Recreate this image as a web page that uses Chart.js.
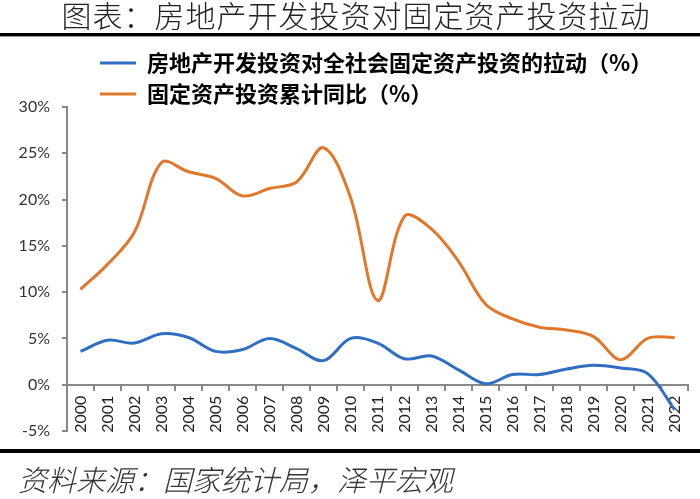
<!DOCTYPE html>
<html>
<head>
<meta charset="utf-8">
<script src="https://cdn.jsdelivr.net/npm/chart.js@4.4.1/dist/chart.umd.min.js"></script>
<style>
  html, body { margin: 0; padding: 0; background: #fff; }
  #wrap { position: relative; width: 700px; height: 499px; overflow: hidden; background: #fff; }
  #c { position: absolute; left: 0; top: 0; }
  #title { position: absolute; left: 6px; top: -3px; width: 700px; height: 34px; line-height: 34px; text-align: center;
           font-family: "Noto Sans CJK SC", sans-serif; font-weight: 300; font-size: 30px; letter-spacing: 1px; color: #222; white-space: nowrap; }
  #topline { position: absolute; left: 0; top: 33px; width: 700px; height: 3px; background: #000; }
  #topline2 { position: absolute; left: 0; top: 36px; width: 700px; height: 1px; background: #999; }
  #botline { position: absolute; left: 0; top: 449px; width: 700px; height: 4px; background: #000; }
  #source { position: absolute; left: 18px; top: 459px; height: 38px; line-height: 38px; white-space: nowrap;
            font-family: "Noto Sans CJK SC", sans-serif; font-weight: 300; font-style: italic; font-size: 29px; color: #333; }
</style>
</head>
<body>
<div id="wrap">
  <canvas id="c" width="700" height="499"></canvas>
  <div id="title">图表：房地产开发投资对固定资产投资拉动</div>
  <div id="topline"></div>
  <div id="topline2"></div>
  <div id="botline"></div>
  <div id="source">资料来源：国家统计局，泽平宏观</div>
</div>
<script>
// ---- data ----
const years = ["2000","2001","2002","2003","2004","2005","2006","2007","2008","2009","2010","2011",
               "2012","2013","2014","2015","2016","2017","2018","2019","2020","2021","2022"];
const seriesNames = ["房地产开发投资对全社会固定资产投资的拉动（%）", "固定资产投资累计同比（%）"];
const realEstatePull = [3.6, 4.8, 4.5, 5.5, 5.1, 3.6, 3.8, 5.0, 3.9, 2.6, 5.0, 4.5,
                        2.8, 3.1, 1.6, 0.1, 1.1, 1.1, 1.7, 2.1, 1.8, 1.2, -2.7];
const fixedInvestGrowth = [10.3, 13.0, 16.5, 24.0, 23.0, 22.3, 20.4, 21.2, 21.9, 25.6, 20.2, 9.1,
                           18.2, 16.8, 13.3, 8.7, 7.1, 6.2, 5.9, 5.2, 2.7, 5.0, 5.1];
const yMin = -5, yMax = 30, yStep = 5;

const BLUE = "#2F6EC0";
const ORANGE = "#E0782C";
const AXIS = "#888888";

const legendShift = {
  id: 'legendShift',
  afterLayout(chart) {
    const lg = chart.legend;
    if (lg) { lg.left = 91; lg.top = 43; }
  }
};

new Chart(document.getElementById('c'), {
  type: 'line',
  data: {
    labels: years,
    datasets: [
      { label: seriesNames[0], data: realEstatePull, borderColor: BLUE, backgroundColor: BLUE,
        borderWidth: 3, pointRadius: 0, tension: 0.35, fill: false },
      { label: seriesNames[1], data: fixedInvestGrowth, borderColor: ORANGE, backgroundColor: ORANGE,
        borderWidth: 3, pointRadius: 0, tension: 0.35, fill: false }
    ]
  },
  options: {
    responsive: false,
    devicePixelRatio: 1,
    animation: false,
    layout: { padding: { top: 35, left: 0, right: 6, bottom: 68 } },
    plugins: {
      legend: {
        display: true,
        position: 'top',
        align: 'start',
        labels: {
          boxWidth: 36,
          boxHeight: 3,
          padding: 9,
          color: '#000',
          font: { family: '"Noto Sans CJK SC", sans-serif', size: 22, weight: 'bold' },
          generateLabels(chart) {
            return Chart.defaults.plugins.legend.labels.generateLabels(chart).map(l => {
              l.lineWidth = 0; return l;
            });
          }
        }
      },
      tooltip: { enabled: false },
      title: { display: false }
    },
    scales: {
      x: {
        type: 'category',
        position: { y: 0 },
        offset: true,
        grid: { display: true, offset: true, drawOnChartArea: false, drawTicks: true, tickLength: 5,
                color: AXIS, lineWidth: 2 },
        border: { display: true, color: AXIS, width: 2 },
        ticks: { autoSkip: false, maxRotation: 90, minRotation: 90, padding: 6, color: '#222',
                 font: { family: 'Lato, "Liberation Sans", sans-serif', size: 16 } }
      },
      y: {
        min: yMin, max: yMax,
        afterFit(scale) { scale.width = 67; },
        grid: { display: true, drawOnChartArea: false, drawTicks: true, tickLength: 5, color: AXIS, lineWidth: 2 },
        border: { display: true, color: AXIS, width: 2 },
        ticks: { stepSize: yStep, padding: 12, color: '#333',
                 font: { family: 'Lato, "Liberation Sans", sans-serif', size: 16 },
                 callback: v => v + '%' }
      }
    }
  },
  plugins: [legendShift]
});
</script>
</body>
</html>
